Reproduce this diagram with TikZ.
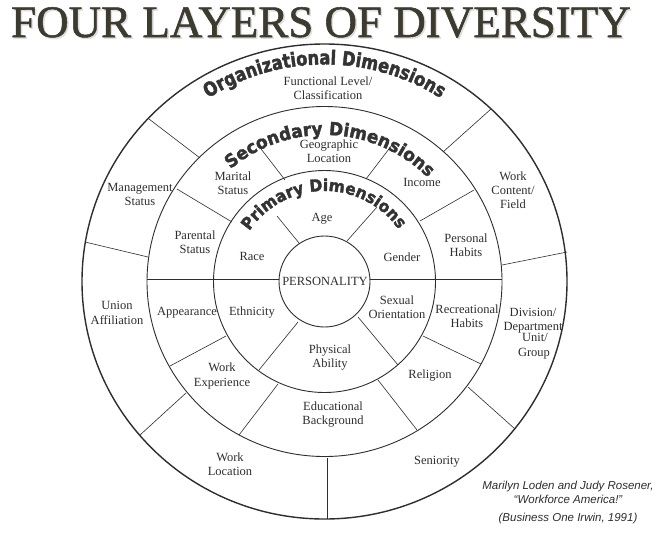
\documentclass[tikz,border=0pt]{standalone}
\usepackage{fontspec}
\setmainfont{Liberation Serif}
\newfontfamily\titlefont[FakeBold=1.2]{Liberation Serif}
\newfontfamily\orgfont[FakeStretch=0.83,FakeBold=2]{DejaVu Sans}
\newfontfamily\secfont[FakeStretch=0.94,FakeBold=2]{DejaVu Sans}
\newfontfamily\primfont[FakeStretch=0.94,FakeBold=2]{DejaVu Sans}
\newfontfamily\citefont{Liberation Sans}
\usetikzlibrary{decorations.text,calc}
\definecolor{ink}{HTML}{2E2E2E}
\definecolor{titleink}{HTML}{3D3A30}
\definecolor{arcink}{HTML}{333333}
\begin{document}
\begin{tikzpicture}[x=1pt,y=-1pt,
  ring/.style={draw=ink, line width=0.9pt},
  outerring/.style={draw=ink, line width=1.4pt},
  divider/.style={draw=ink, line width=0.6pt},
  lbl/.style={font=\fontsize{12.5}{14.2}\selectfont, text=ink, align=center, inner sep=0pt},
  cite/.style={font=\citefont\itshape\fontsize{11.5}{13}\selectfont, text=ink, inner sep=0pt},
  titlestyle/.style={font=\titlefont\fontsize{45}{45}\selectfont, anchor=base, inner sep=0pt},
]
\useasboundingbox[fill=white] (0,0) rectangle (663,541);
\coordinate (C) at (324.5,281.5);

% title
\node[titlestyle, text=gray!25] (titleshadow) at (322.5,38.5) {FOUR LAYERS OF DIVERSITY};
\node[titlestyle, text=titleink] (title) at (321,37) {FOUR LAYERS OF DIVERSITY};

% rings
\draw[outerring] (C) ellipse [x radius=242.5, y radius=237.5];
\draw[ring] (C) ellipse [x radius=177.5, y radius=175];
\draw[ring] (C) circle [radius=111];
\draw[ring] (C) circle [radius=45.5];

% primary dividers
\draw[divider] (299,243) -- (277,216);
\draw[divider] (347,241) -- (377,207);
\draw[divider] (298,322) -- (259,370);
\draw[divider] (358,317) -- (398,365);
\draw[divider] (147,279) -- (279,279);
\draw[divider] (370,279) -- (502,279);

% secondary dividers
\draw[divider] (258,145) -- (285,180);
\draw[divider] (177,189) -- (232,222);
\draw[divider] (170,366) -- (226,336);
\draw[divider] (239,435) -- (278,384);
\draw[divider] (378,380) -- (417,430);
\draw[divider] (423,336) -- (481,364);
\draw[divider] (420,221) -- (474,190);
\draw[divider] (366,179) -- (392,145);

% outer dividers
\draw[divider] (149,119) -- (200,158);
\draw[divider] (85,242) -- (148,257);
\draw[divider] (140,435) -- (186,393);
\draw[divider] (327,458) -- (327,519);
\draw[divider] (468,387) -- (515,429);
\draw[divider] (502,265) -- (567,252);
\draw[divider] (443,152) -- (491,109);

% arc titles
\path[decorate, decoration={text along path, text align=center, text color=arcink,
  text={|\orgfont\bfseries\fontsize{19.5}{19.5}\selectfont|Organizational Dimensions}}]
  ([shift={(-160:217)}]C) arc[start angle=-160, end angle=-20, radius=217];
\path[decorate, decoration={text along path, text align=center, text color=arcink,
  text={|\secfont\bfseries\fontsize{18}{18}\selectfont|Secondary Dimensions}}]
  ([shift={(-157.5:146.5)}]C) arc[start angle=-157.5, end angle=-17.5, radius=146.5];
\path[decorate, decoration={text along path, text align=center, text color=arcink,
  text={|\primfont\bfseries\fontsize{16.5}{16.5}\selectfont|Primary Dimensions}}]
  ([shift={(-170.6:90.5)}]C) arc[start angle=-170.6, end angle=-10.6, radius=90.5];

% outer labels
\node[lbl] (functional) at (328,88) {Functional Level/\\Classification};
\node[lbl] (management) at (140,194.5) {Management\\Status};
\node[lbl] (workcontent) at (513,190) {Work\\Content/\\Field};
\node[lbl] (union) at (117,313) {Union\\Affiliation};
\node[lbl] (division) at (533,312) {Division/};
\node[lbl] (department) at (533,327.5) {Department};
\node[lbl] (unit) at (535,337) {Unit/};
\node[lbl] (group) at (534,354) {Group};
\node[lbl] (worklocation) at (230,464) {Work\\Location};
\node[lbl] (seniority) at (437,462) {Seniority};

% secondary labels
\node[lbl] (geographic) at (329,151) {Geographic\\Location};
\node[lbl] (marital) at (233,183) {Marital\\Status};
\node[lbl] (income) at (422,182) {Income};
\node[lbl] (parental) at (195,242.5) {Parental\\Status};
\node[lbl] (personal) at (466,245) {Personal\\Habits};
\node[lbl] (appearance) at (187,313) {Appearance};
\node[lbl] (recreational) at (467,316) {Recreational\\Habits};
\node[lbl] (workexp) at (222,376) {Work\\Experience};
\node[lbl] (religion) at (430,376) {Religion};
\node[lbl] (educational) at (333,414.5) {Educational\\Background};

% primary labels
\node[lbl] (age) at (322,219) {Age};
\node[lbl] (race) at (252,256) {Race};
\node[lbl] (gender) at (402,257) {Gender};
\node[lbl] (ethnicity) at (252,313) {Ethnicity};
\node[lbl] (sexual) at (397,307.5) {Sexual\\Orientation};
\node[lbl] (physical) at (330,357.5) {Physical\\Ability};
\node[lbl] (personality) at (325,281) {PERSONALITY};

% citation
\node[cite] (cite1) at (568,487) {Marilyn Loden and Judy Rosener,};
\node[cite] (cite2) at (568,499.5) {“Workforce America!”};
\node[cite] (cite3) at (568,518.5) {(Business One Irwin, 1991)};
\end{tikzpicture}
\end{document}
